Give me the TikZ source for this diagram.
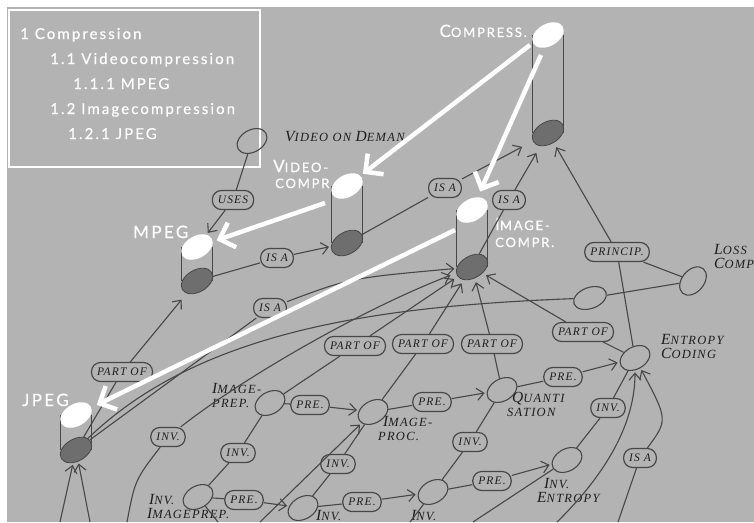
\documentclass[tikz,border=0pt]{standalone}
\usepackage{fontspec}
\newfontfamily\opt[LetterSpace=14,FakeBold=0.5]{Lato}
\newfontfamily\hand[LetterSpace=10]{Liberation Serif}
\usetikzlibrary{arrows.meta,shapes.geometric}
\definecolor{bg}{HTML}{B3B3B3}
\definecolor{ln}{HTML}{474747}
\definecolor{cylb}{HTML}{6E6E6E}
\definecolor{ink}{HTML}{1E1E1E}
\newcommand\wsc[2]{{\fontsize{17}{17}\selectfont #1}{\fontsize{13}{13}\selectfont #2}}
\newcommand\BL[1]{{\fontsize{15.5}{12}\selectfont #1}}
\newcommand\cylinder[4]{%
  \draw[ln, line width=0.8pt] (#2-15.5,#3) -- (#2-15.5,#4) (#2+15.5,#3) -- (#2+15.5,#4);
  \node[botell] (#1b) at (#2,#4) {};
  \node[topell] (#1t) at (#2,#3) {};
}
\tikzset{
  rel/.style={draw=ln, line width=1.2pt, rounded corners=9pt, fill=bg, minimum height=19pt,
    inner xsep=5.5pt, inner ysep=2pt, font=\hand\fontsize{11.5}{12}\selectfont\itshape, text=ink},
  ell/.style={draw=ln, line width=1.1pt, ellipse, minimum width=32pt, minimum height=22pt,
    rotate=30, inner sep=0pt},
  topell/.style={ellipse, fill=white, minimum width=34pt, minimum height=22pt, rotate=30, inner sep=0pt},
  botell/.style={ellipse, draw=ln, line width=0.8pt, fill=cylb, minimum width=34pt,
    minimum height=22pt, rotate=30, inner sep=0pt},
  conn/.style={draw=ln, line width=1.1pt},
  arr/.style={conn, -{Straight Barb[length=7pt,width=12pt]}, shorten >=2pt},
  big/.style={draw=white, line width=4.5pt, -{Straight Barb[length=13pt,width=26pt]}},
  wlab/.style={text=white, font=\opt\fontsize{15}{18}\selectfont, inner sep=0pt},
  ilab/.style={text=ink, font=\hand\fontsize{12.5}{14}\selectfont\itshape, align=left, inner sep=0pt},
}
\begin{document}
\begin{tikzpicture}[x=1pt,y=-1pt]
\useasboundingbox (0,0) rectangle (754,522);
\fill[white] (0,0) rectangle (754,522);
\fill[bg] (7,7) rectangle (754,522);
\draw[white, line width=1.5pt] (9,10) rectangle (260,167);

% outline
\node[wlab, anchor=base west] (o1) at (20,39) {1 Compression};
\node[wlab, anchor=base west] (o2) at (50,64) {1.1 Videocompression};
\node[wlab, anchor=base west] (o3) at (73,89) {1.1.1 MPEG};
\node[wlab, anchor=base west] (o4) at (50,114) {1.2 Imagecompression};
\node[wlab, anchor=base west] (o5) at (68,139) {1.2.1 JPEG};

% cylinders
\cylinder{compress}{548}{35}{133}
\cylinder{video}{347}{186}{243}
\cylinder{mpeg}{197}{247}{281}
\cylinder{image}{472}{210}{267}
\cylinder{jpeg}{76}{415}{450}

% white labels
\node[wlab, anchor=base east] (lcomp) at (527,37) {\wsc{C}{OMPRESS.}};
\node[wlab, anchor=base west] (lvid1) at (273,172) {\wsc{V}{IDEO-}};
\node[wlab, anchor=base west] (lvid2) at (275,188) {\wsc{}{COMPR}};
\node[wlab, anchor=base west] (limg1) at (495,230) {\wsc{I}{MAGE-}};
\node[wlab, anchor=base west] (limg2) at (495,247) {\wsc{}{COMPR.}};
\node[wlab, anchor=base west, font=\opt\fontsize{17}{18}\selectfont] (lmpeg) at (133,238) {MPEG};
\node[wlab, anchor=base west, font=\opt\fontsize{17}{18}\selectfont] (ljpeg) at (22,406) {JPEG};

% small ellipse nodes
\node[ell] (vod) at (252,141) {};
\node[ell, minimum width=34pt, minimum height=21pt, rotate=-10] (small) at (590,298) {};
\node[ell, rotate=20] (lossy) at (693,281) {};
\node[ell] (imprep) at (270,403) {};
\node[ell] (improc) at (373,412) {};
\node[ell] (quant) at (502,390) {};
\node[ell] (entropy) at (635,358) {};
\node[ell] (invprep) at (198,497) {};
\node[ell] (invproc) at (303,508) {};
\node[ell] (invquant) at (433,492) {};
\node[ell] (inventropy) at (567,460) {};

% italic labels
\node[ilab, anchor=west] (tvod) at (285,137) {\BL{V}IDEO ON \BL{D}EMAN};
\node[ilab, anchor=north west] (tlossy) at (714,244) {\BL{L}OSS\\\BL{C}OMP};
\node[ilab, anchor=north west] (tentropy) at (661,334) {\BL{E}NTROPY\\\BL{C}ODING};
\node[ilab, anchor=north west] (timprep) at (212,383) {\BL{I}MAGE-\\PREP.};
\node[ilab, anchor=north west] (timproc) at (378,416) {\hspace*{5pt}\BL{I}MAGE-\\PROC.};
\node[ilab, anchor=north west] (tquant) at (507,392) {\hspace*{5pt}\BL{Q}UANTI\\SATION};
\node[ilab, anchor=north west] (tinvent) at (537,478) {\hspace*{7pt}\BL{I}NV.\\\BL{E}NTROPY};
\node[ilab, anchor=north west] (tinvprep) at (147,494) {\hspace*{2pt}\BL{I}NV.\\\BL{I}MAGEPREP.};
\node[ilab, anchor=base west] (tinvproc) at (316,520) {\BL{I}NV.};
\node[ilab, anchor=base west] (tinvquant) at (411,520) {\BL{I}NV.};

% relation labels
\node[rel] (uses) at (233,200) {USES};
\node[rel] (isa1) at (277,258) {IS A};
\node[rel] (isa2) at (445,188) {IS A};
\node[rel] (isa3) at (509,200) {IS A};
\node[rel] (isa4) at (270,308) {IS A};
\node[rel] (isa5) at (640,458) {IS A};
\node[rel] (princip) at (617,252) {PRINCIP.};
\node[rel] (po1) at (122,372) {PART OF};
\node[rel] (po2) at (355,346) {PART OF};
\node[rel] (po3) at (423,344) {PART OF};
\node[rel] (po4) at (492,344) {PART OF};
\node[rel] (po5) at (583,332) {PART OF};
\node[rel] (inv0) at (168,437) {INV.};
\node[rel] (inv1) at (238,453) {INV.};
\node[rel] (inv2) at (338,464) {INV.};
\node[rel] (inv3) at (470,442) {INV.};
\node[rel] (inv4) at (608,408) {INV.};
\node[rel] (pre1) at (310,405) {PRE.};
\node[rel] (pre2) at (432,402) {PRE.};
\node[rel] (pre3) at (563,377) {PRE.};
\node[rel] (pre4) at (244,500) {PRE.};
\node[rel] (pre5) at (362,502) {PRE.};
\node[rel] (pre6) at (492,481) {PRE.};

% free ends
\coordinate (b1) at (60,522);
\coordinate (b2) at (90,522);
\coordinate (b3) at (127,522);
\coordinate (b4) at (260,522);
\coordinate (b5) at (557,522);
\coordinate (b6) at (618,522);
\coordinate (b7) at (218,522);
\coordinate (b8) at (410,522);
\coordinate (b9) at (473,522);
\coordinate (w1) at (530,45);
\coordinate (w2) at (541,55);
\coordinate (w3) at (325,203);
\coordinate (w4) at (455,230);

% thin connectors
\draw[conn] (vod) -- (uses);
\draw[arr] (uses) -- (mpegt);
\draw[conn] (mpegb) -- (isa1);
\draw[arr] (isa1) -- (videob);
\draw[conn] (videob) -- (isa2);
\draw[arr, shorten >=12pt] (isa2) -- (compressb);
\draw[conn] (imageb) -- (isa3);
\draw[arr, shorten >=8pt] (isa3) -- (compressb);
\draw[conn] (entropy) -- (princip);
\draw[arr, shorten >=5pt] (princip) -- (compressb);
\draw[conn] (princip) -- (lossy);
\draw[conn] (small) -- (lossy);
\draw[conn] (jpegb) .. controls (200,330) and (380,306) .. (small);
\draw[conn] (jpegb) -- (po1);
\draw[arr, shorten >=8pt] (po1) -- (mpegb);
\draw[conn] (jpegb) -- (isa4);
\draw[arr] (isa4) .. controls (350,278) .. (imageb);
\draw[conn] (imprep) -- (po2);
\draw[arr, shorten >=4pt] (po2) -- (imageb);
\draw[conn] (improc) -- (po3);
\draw[arr, shorten >=4pt] (po3) -- (imageb);
\draw[conn] (quant) -- (po4);
\draw[arr, shorten >=4pt] (po4) -- (imageb);
\draw[conn] (entropy) -- (po5);
\draw[arr, shorten >=4pt] (po5) -- (imageb);
\draw[conn] (imprep) -- (pre1);
\draw[arr] (pre1) -- (improc);
\draw[conn] (improc) -- (pre2);
\draw[arr] (pre2) -- (quant);
\draw[conn] (quant) -- (pre3);
\draw[arr] (pre3) -- (entropy);
\draw[conn] (imprep) -- (inv1) -- (invprep);
\draw[conn] (improc) -- (inv2) -- (invproc);
\draw[conn] (quant) -- (inv3) -- (invquant);
\draw[conn] (entropy) -- (inv4) -- (inventropy);
\draw[conn] (invprep) -- (pre4);
\draw[arr] (pre4) -- (invproc);
\draw[conn] (invproc) -- (pre5);
\draw[arr] (pre5) -- (invquant);
\draw[conn] (invquant) -- (pre6);
\draw[arr] (pre6) -- (inventropy);
\draw[arr] (b1) -- (jpegb);
\draw[arr] (b2) -- (jpegb);
\draw[conn] (b3) .. controls (135,480) .. (inv0);
\draw[arr, shorten >=6pt] (inv0) .. controls (240,380) and (360,310) .. (imageb);
\draw[arr] (b4) -- (improc);
\draw[conn] (invprep) -- (b7);
\draw[conn] (invquant) -- (b8);
\draw[conn] (inventropy) -- (b9);
\draw[arr] (b5) .. controls (610,470) and (635,420) .. (entropy);
\draw[conn] (b6) -- (isa5);
\draw[arr] (isa5) .. controls (668,420) .. (entropy);

% white arrows
\draw[big, shorten >=3pt] (w1) -- (videot);
\draw[big, shorten >=6pt] (w2) -- (imaget);
\draw[big, shorten >=4pt] (w3) -- (mpegt);
\draw[big, shorten >=6pt] (w4) -- (jpegt);
\end{tikzpicture}
\end{document}
